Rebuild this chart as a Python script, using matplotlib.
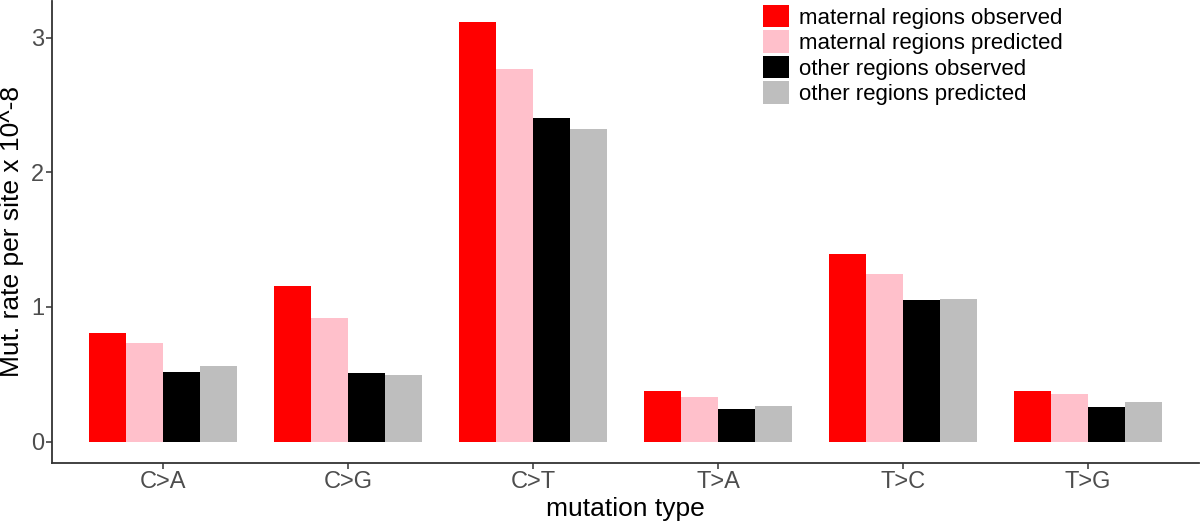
import numpy as np
import matplotlib.pyplot as plt

plt.rcParams['font.family'] = ['Liberation Sans', 'DejaVu Sans']

# data (units: 10^-8 per site)
mutation_types = ['C>A', 'C>G', 'C>T', 'T>A', 'T>C', 'T>G']
maternal_observed = [0.805, 1.158, 3.116, 0.374, 1.391, 0.376]
maternal_predicted = [0.733, 0.916, 2.767, 0.330, 1.243, 0.356]
other_observed = [0.520, 0.512, 2.405, 0.243, 1.052, 0.258]
other_predicted = [0.560, 0.497, 2.324, 0.267, 1.057, 0.293]

series_labels = ['maternal regions observed', 'maternal regions predicted',
                 'other regions observed', 'other regions predicted']
series_colors = ['#FF0000', '#FFC0CB', '#000000', '#BEBEBE']
series_values = [maternal_observed, maternal_predicted, other_observed, other_predicted]

fig = plt.figure(figsize=(12, 5.25), dpi=100)
ax = fig.add_axes([0.0436, 0.1187, 0.9556, 0.8794])

x = np.arange(len(mutation_types))
width = 0.2
for i, (vals, lab, col) in enumerate(zip(series_values, series_labels, series_colors)):
    ax.bar(x + (i - 1.5) * width, vals, width, color=col, label=lab, linewidth=0)

ax.set_xlim(-0.6, len(mutation_types) - 0.4)
ax.set_ylim(-0.156, 3.272)
ax.set_xticks(x)
ax.set_xticklabels(mutation_types)
ax.set_yticks([0, 1, 2, 3])

for side in ['top', 'right']:
    ax.spines[side].set_visible(False)
for side in ['left', 'bottom']:
    ax.spines[side].set_linewidth(1.3)
    ax.spines[side].set_color('#333333')

ax.tick_params(axis='both', labelsize=17, labelcolor='#4D4D4D', color='#333333',
               length=4, width=1.1, pad=2)
ax.set_xlabel('mutation type', fontsize=19, labelpad=3)
ax.set_ylabel('Mut. rate per site x 10^-8', fontsize=19)
ax.yaxis.set_label_coords(-0.0245, 0.5)

ax.legend(loc='upper left', bbox_to_anchor=(763 / 1200, 1 - 5 / 525),
          bbox_transform=fig.transFigure, frameon=False, fontsize=16,
          handlelength=1.17, handleheight=1.17, labelspacing=0.08,
          handletextpad=0.45, borderpad=0, borderaxespad=0)

plt.savefig('out.png', dpi=100)
